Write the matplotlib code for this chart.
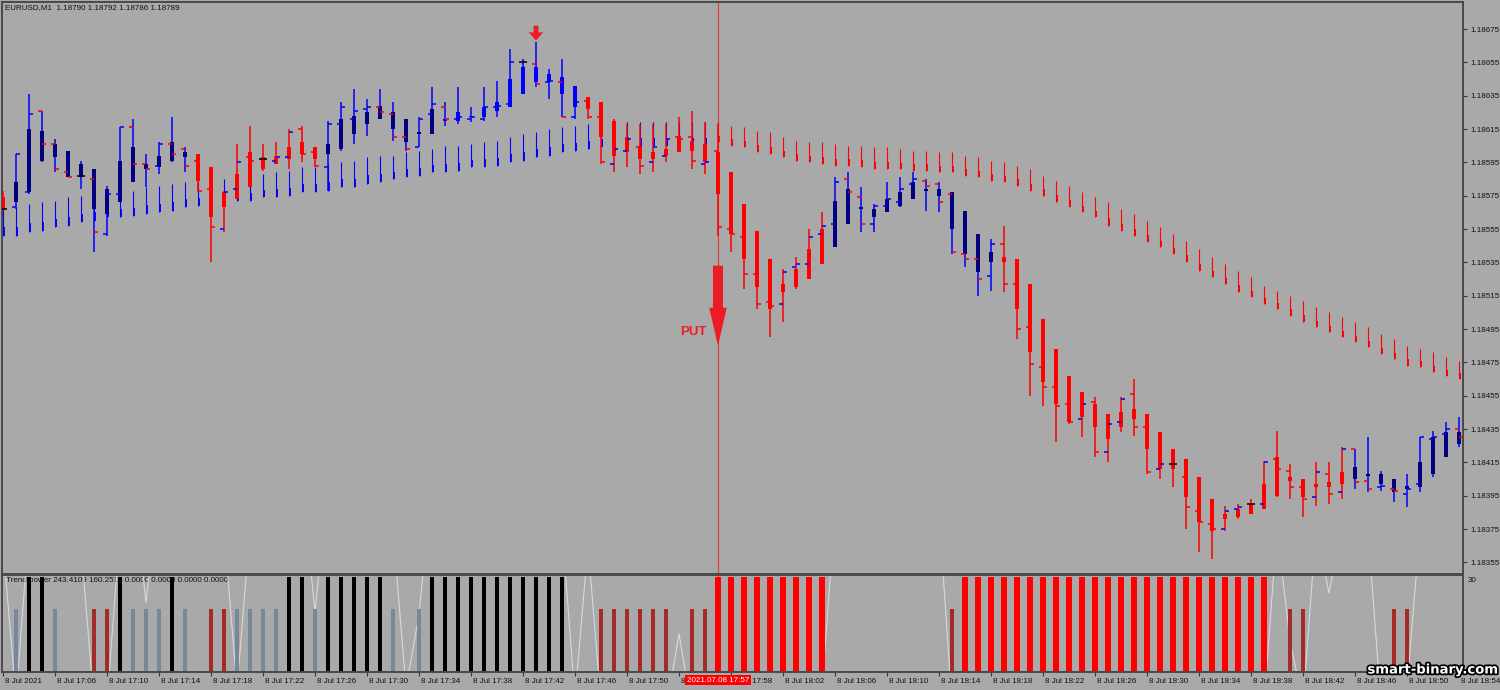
import numpy as np
import matplotlib
matplotlib.use("Agg")
import matplotlib.pyplot as plt
import matplotlib.patheffects as pe
import matplotlib.transforms as mtransforms
from matplotlib.patches import FancyArrow

plt.rcParams['font.family'] = ['Liberation Sans', 'DejaVu Sans']

# EURUSD M1, 8 Jul 2021 17:02 .. 18:54 (one entry per minute bar)
high = [
    1.18578, 1.18600, 1.18636, 1.18626, 1.18609, 1.18602, 1.18596, 1.18591, 1.18581, 1.18616,
    1.18621, 1.18600, 1.18607, 1.18622, 1.18604, 1.18600, 1.18592, 1.18578, 1.18606, 1.18617,
    1.18606, 1.18607, 1.18615, 1.18617, 1.18604, 1.18620, 1.18631, 1.18639, 1.18633, 1.18639,
    1.18631, 1.18621, 1.18622, 1.18640, 1.18631, 1.18640, 1.18628, 1.18640, 1.18644, 1.18663,
    1.18657, 1.18667, 1.18651, 1.18657, 1.18641, 1.18634, 1.18631, 1.18621, 1.18618, 1.18618,
    1.18618, 1.18618, 1.18622, 1.18626, 1.18619, 1.18618, 1.18589, 1.18570, 1.18554, 1.18537,
    1.18531, 1.18538, 1.18555, 1.18565, 1.18586, 1.18589, 1.18580, 1.18570, 1.18583, 1.18586,
    1.18589, 1.18585, 1.18583, 1.18577, 1.18566, 1.18552, 1.18549, 1.18557, 1.18537, 1.18522,
    1.18501, 1.18483, 1.18467, 1.18457, 1.18454, 1.18444, 1.18454, 1.18465, 1.18444, 1.18433,
    1.18423, 1.18417, 1.18406, 1.18393, 1.18389, 1.18390, 1.18393, 1.18416, 1.18434, 1.18414,
    1.18405, 1.18415, 1.18415, 1.18424, 1.18423, 1.18430, 1.18410, 1.18405, 1.18408, 1.18430,
    1.18434, 1.18439, 1.18442]
low = [
    1.18566, 1.18567, 1.18576, 1.18595, 1.18589, 1.18586, 1.18579, 1.18541, 1.18551, 1.18571,
    1.18583, 1.18580, 1.18588, 1.18595, 1.18589, 1.18577, 1.18535, 1.18553, 1.18573, 1.18580,
    1.18590, 1.18594, 1.18591, 1.18595, 1.18592, 1.18578, 1.18602, 1.18606, 1.18611, 1.18621,
    1.18608, 1.18602, 1.18604, 1.18612, 1.18617, 1.18618, 1.18619, 1.18620, 1.18622, 1.18628,
    1.18636, 1.18640, 1.18633, 1.18622, 1.18621, 1.18621, 1.18594, 1.18589, 1.18592, 1.18588,
    1.18589, 1.18595, 1.18601, 1.18591, 1.18588, 1.18551, 1.18541, 1.18519, 1.18507, 1.18490,
    1.18499, 1.18519, 1.18525, 1.18534, 1.18544, 1.18558, 1.18553, 1.18553, 1.18565, 1.18568,
    1.18573, 1.18566, 1.18565, 1.18540, 1.18532, 1.18515, 1.18518, 1.18517, 1.18489, 1.18455,
    1.18449, 1.18427, 1.18438, 1.18430, 1.18418, 1.18415, 1.18433, 1.18431, 1.18408, 1.18405,
    1.18400, 1.18375, 1.18361, 1.18357, 1.18374, 1.18381, 1.18384, 1.18387, 1.18394, 1.18393,
    1.18382, 1.18389, 1.18390, 1.18393, 1.18399, 1.18397, 1.18398, 1.18391, 1.18388, 1.18397,
    1.18406, 1.18418, 1.18424]
open_ = [
    1.18567, 1.18568, 1.18577, 1.18626, 1.18606, 1.18589, 1.18587, 1.18585, 1.18552, 1.18576,
    1.18616, 1.18594, 1.18593, 1.18606, 1.18603, 1.18596, 1.18579, 1.18555, 1.18579, 1.18598,
    1.18597, 1.18596, 1.18598, 1.18615, 1.18601, 1.18592, 1.18618, 1.18621, 1.18627, 1.18628,
    1.18624, 1.18610, 1.18604, 1.18624, 1.18628, 1.18621, 1.18621, 1.18621, 1.18628, 1.18630,
    1.18655, 1.18654, 1.18643, 1.18643, 1.18622, 1.18632, 1.18622, 1.18594, 1.18602, 1.18604,
    1.18595, 1.18599, 1.18610, 1.18610, 1.18594, 1.18602, 1.18555, 1.18550, 1.18528, 1.18511,
    1.18510, 1.18532, 1.18534, 1.18552, 1.18558, 1.18585, 1.18574, 1.18558, 1.18569, 1.18571,
    1.18582, 1.18584, 1.18582, 1.18576, 1.18540, 1.18537, 1.18527, 1.18546, 1.18522, 1.18496,
    1.18472, 1.18460, 1.18450, 1.18441, 1.18451, 1.18421, 1.18439, 1.18456, 1.18436, 1.18411,
    1.18414, 1.18406, 1.18386, 1.18378, 1.18375, 1.18387, 1.18390, 1.18390, 1.18417, 1.18410,
    1.18400, 1.18394, 1.18408, 1.18397, 1.18423, 1.18404, 1.18400, 1.18399, 1.18396, 1.18402,
    1.18429, 1.18432, 1.18435]
close = [
    1.18567, 1.18600, 1.18624, 1.18606, 1.18591, 1.18586, 1.18587, 1.18553, 1.18576, 1.18616,
    1.18594, 1.18591, 1.18606, 1.18600, 1.18593, 1.18578, 1.18556, 1.18577, 1.18595, 1.18596,
    1.18597, 1.18598, 1.18613, 1.18600, 1.18593, 1.18618, 1.18628, 1.18626, 1.18628, 1.18625,
    1.18610, 1.18603, 1.18621, 1.18630, 1.18621, 1.18622, 1.18622, 1.18628, 1.18629, 1.18655,
    1.18655, 1.18642, 1.18644, 1.18622, 1.18631, 1.18622, 1.18595, 1.18603, 1.18609, 1.18593,
    1.18604, 1.18609, 1.18609, 1.18596, 1.18595, 1.18556, 1.18552, 1.18528, 1.18510, 1.18509,
    1.18529, 1.18534, 1.18550, 1.18557, 1.18583, 1.18577, 1.18558, 1.18569, 1.18573, 1.18579,
    1.18585, 1.18581, 1.18571, 1.18541, 1.18537, 1.18525, 1.18546, 1.18522, 1.18495, 1.18474,
    1.18460, 1.18449, 1.18439, 1.18450, 1.18421, 1.18438, 1.18453, 1.18436, 1.18409, 1.18414,
    1.18414, 1.18388, 1.18379, 1.18375, 1.18386, 1.18388, 1.18390, 1.18415, 1.18411, 1.18400,
    1.18393, 1.18409, 1.18396, 1.18423, 1.18403, 1.18399, 1.18401, 1.18398, 1.18399, 1.18430,
    1.18430, 1.18435, 1.18430]

# Heiken Ashi bodies (upper / lower edge) and their colour: r = bear, n = bull, b = bull (light)
ha_top = [
    1.18574, 1.18583, 1.18615, 1.18614, 1.18606, 1.18602, 1.18594, 1.18591, 1.18579, 1.18596,
    1.18604, 1.18594, 1.18599, 1.18607, 1.18601, 1.18600, 1.18592, 1.18577, 1.18588, 1.18601,
    1.18598, 1.18599, 1.18604, 1.18607, 1.18604, 1.18606, 1.18621, 1.18623, 1.18625, 1.18629,
    1.18625, 1.18621, 1.18613, 1.18627, 1.18621, 1.18625, 1.18623, 1.18628, 1.18631, 1.18645,
    1.18652, 1.18652, 1.18648, 1.18646, 1.18641, 1.18634, 1.18631, 1.18620, 1.18610, 1.18605,
    1.18601, 1.18603, 1.18611, 1.18608, 1.18606, 1.18601, 1.18589, 1.18570, 1.18554, 1.18537,
    1.18522, 1.18531, 1.18543, 1.18555, 1.18572, 1.18579, 1.18568, 1.18567, 1.18573, 1.18577,
    1.18583, 1.18579, 1.18579, 1.18577, 1.18566, 1.18552, 1.18541, 1.18538, 1.18537, 1.18522,
    1.18501, 1.18483, 1.18467, 1.18457, 1.18450, 1.18444, 1.18445, 1.18447, 1.18444, 1.18433,
    1.18423, 1.18417, 1.18406, 1.18393, 1.18384, 1.18387, 1.18390, 1.18402, 1.18418, 1.18406,
    1.18405, 1.18402, 1.18403, 1.18409, 1.18412, 1.18408, 1.18408, 1.18405, 1.18401, 1.18415,
    1.18430, 1.18433, 1.18433]
ha_bot = [
    1.18567, 1.18571, 1.18577, 1.18596, 1.18598, 1.18586, 1.18586, 1.18567, 1.18564, 1.18571,
    1.18583, 1.18591, 1.18592, 1.18596, 1.18598, 1.18584, 1.18562, 1.18568, 1.18573, 1.18580,
    1.18591, 1.18594, 1.18597, 1.18600, 1.18597, 1.18600, 1.18603, 1.18612, 1.18618, 1.18621,
    1.18615, 1.18607, 1.18612, 1.18612, 1.18620, 1.18620, 1.18622, 1.18622, 1.18626, 1.18628,
    1.18636, 1.18643, 1.18643, 1.18636, 1.18628, 1.18627, 1.18610, 1.18599, 1.18601, 1.18597,
    1.18597, 1.18599, 1.18601, 1.18602, 1.18595, 1.18576, 1.18552, 1.18537, 1.18520, 1.18507,
    1.18517, 1.18520, 1.18525, 1.18534, 1.18544, 1.18558, 1.18567, 1.18562, 1.18565, 1.18569,
    1.18573, 1.18578, 1.18575, 1.18555, 1.18540, 1.18529, 1.18535, 1.18535, 1.18507, 1.18481,
    1.18463, 1.18450, 1.18439, 1.18442, 1.18436, 1.18429, 1.18436, 1.18441, 1.18423, 1.18411,
    1.18411, 1.18394, 1.18379, 1.18374, 1.18381, 1.18382, 1.18384, 1.18387, 1.18395, 1.18404,
    1.18394, 1.18400, 1.18400, 1.18402, 1.18405, 1.18407, 1.18402, 1.18397, 1.18399, 1.18400,
    1.18408, 1.18418, 1.18426]
ha_kind = ("r" "nnnnnnnnnnnnnn" "rrrrrrrrrr" "nnnnnnnnn" "bbbbbbbbbbb"
           "rrrrrrrrrrrrrrrrrrr" "nnnnnnnnnnnnn" "rrrrrrrrrrrrrrrrrrrrrrrrrrr" "nnnnnnnnn")

# envelope band: blue below price until the signal, red above price afterwards
band_top = [
    1.18567, 1.18568, 1.18570, 1.18571, 1.18572, 1.18574, 1.18575, 1.18576, 1.18577, 1.18578,
    1.18578, 1.18580, 1.18581, 1.18582, 1.18583, 1.18584, 1.18584, 1.18585, 1.18586, 1.18587,
    1.18588, 1.18589, 1.18590, 1.18592, 1.18592, 1.18594, 1.18595, 1.18596, 1.18598, 1.18599,
    1.18599, 1.18601, 1.18602, 1.18603, 1.18605, 1.18605, 1.18606, 1.18607, 1.18608, 1.18610,
    1.18612, 1.18613, 1.18615, 1.18616, 1.18617, 1.18618, 1.18619, 1.18619, 1.18619, 1.18619,
    1.18619, 1.18619, 1.18619, 1.18619, 1.18619, 1.18619, 1.18617, 1.18616, 1.18614, 1.18613,
    1.18610, 1.18608, 1.18607, 1.18607, 1.18606, 1.18605, 1.18605, 1.18604, 1.18604, 1.18603,
    1.18602, 1.18602, 1.18601, 1.18601, 1.18599, 1.18598, 1.18596, 1.18595, 1.18593, 1.18591,
    1.18587, 1.18584, 1.18581, 1.18577, 1.18574, 1.18571, 1.18567, 1.18564, 1.18560, 1.18556,
    1.18552, 1.18548, 1.18543, 1.18538, 1.18534, 1.18530, 1.18526, 1.18521, 1.18518, 1.18515,
    1.18512, 1.18508, 1.18505, 1.18502, 1.18499, 1.18496, 1.18492, 1.18489, 1.18485, 1.18483,
    1.18481, 1.18478, 1.18476]
band_bot = [
    1.18551, 1.18551, 1.18553, 1.18554, 1.18556, 1.18557, 1.18559, 1.18560, 1.18562, 1.18562,
    1.18563, 1.18564, 1.18565, 1.18566, 1.18568, 1.18569, 1.18571, 1.18571, 1.18572, 1.18572,
    1.18574, 1.18574, 1.18575, 1.18577, 1.18577, 1.18578, 1.18580, 1.18580, 1.18582, 1.18583,
    1.18585, 1.18586, 1.18587, 1.18589, 1.18589, 1.18590, 1.18592, 1.18592, 1.18593, 1.18595,
    1.18596, 1.18598, 1.18599, 1.18601, 1.18602, 1.18603, 1.18604, 1.18604, 1.18604, 1.18605,
    1.18605, 1.18605, 1.18605, 1.18605, 1.18605, 1.18607, 1.18605, 1.18604, 1.18601, 1.18600,
    1.18598, 1.18596, 1.18595, 1.18594, 1.18593, 1.18593, 1.18592, 1.18591, 1.18591, 1.18591,
    1.18590, 1.18590, 1.18589, 1.18589, 1.18587, 1.18586, 1.18584, 1.18583, 1.18581, 1.18578,
    1.18575, 1.18571, 1.18568, 1.18565, 1.18562, 1.18557, 1.18554, 1.18551, 1.18547, 1.18544,
    1.18540, 1.18535, 1.18530, 1.18526, 1.18522, 1.18517, 1.18514, 1.18510, 1.18507, 1.18503,
    1.18499, 1.18496, 1.18493, 1.18490, 1.18487, 1.18484, 1.18480, 1.18477, 1.18473, 1.18472,
    1.18469, 1.18467, 1.18465]

# Trend power histogram: k = black, s = slate, b = brown, r = red, . = none
power_kind = (".skks..bbk" "sssks.bbss" "sskkskkkkk" "s.skkkkkkk" "kkkk..bbbb"
              "bb.bbrrrrr" "rrrr......" "...brrrrrr" "rrrrrrrrrr" "rrrrrrrr.b"
              "b......bb." "...")
power_height = {"k": 30, "s": 20, "b": 20, "r": 30}
power_line = [
    40, -8, 45, 60, 60, 60, 40, -10, -10, 45,
    60, 22, 60, 60, 60, 60, 60, 45, -5, 45,
    60, 60, 60, 60, 19, 60, 60, 60, 60, 60,
    45, -5, 18, 60, 60, 60, 60, 60, 60, 60,
    60, 60, 60, 45, -8, 40, -10, -10, -10, -10,
    -10, -12, 12, -12, -10, -10, -10, -10, -10, -10,
    -10, -10, -10, -5, 50, 60, 60, 60, 60, 60,
    60, 60, 50, -10, -10, -10, -10, -10, -10, -10,
    -10, -10, -10, -10, -10, -10, -10, -10, -10, -10,
    -10, -10, -10, -10, -10, -10, -10, -10, 45, 10,
    -10, 45, 25, 45, 45, 45, -10, -10, -5, 45,
    60, 60, 60]

time_labels = ["8 Jul 2021", "8 Jul 17:06", "8 Jul 17:10", "8 Jul 17:14", "8 Jul 17:18",
               "8 Jul 17:22", "8 Jul 17:26", "8 Jul 17:30", "8 Jul 17:34", "8 Jul 17:38",
               "8 Jul 17:42", "8 Jul 17:46", "8 Jul 17:50", "8 Jul 17:54", "8 Jul 17:58",
               "8 Jul 18:02", "8 Jul 18:06", "8 Jul 18:10", "8 Jul 18:14", "8 Jul 18:18",
               "8 Jul 18:22", "8 Jul 18:26", "8 Jul 18:30", "8 Jul 18:34", "8 Jul 18:38",
               "8 Jul 18:42", "8 Jul 18:46", "8 Jul 18:50", "8 Jul 18:54"]
price_ticks = [1.18355, 1.18375, 1.18395, 1.18415, 1.18435, 1.18455, 1.18475, 1.18495,
               1.18515, 1.18535, 1.18555, 1.18575, 1.18595, 1.18615, 1.18635, 1.18655, 1.18675]

signal_idx = 55          # 17:57 PUT signal
peak_idx = 41            # small arrow on the top
put_arrow = (1.18533, 1.18485)
peak_arrow = (1.18677, 1.18668)
put_text_price = 1.18493

BG = "#a9a9a9"
FRAME = "#4a4a4a"
BLUE, NAVY, RED = "#0000ff", "#000080", "#ff0000"

n = len(high)
idx = np.arange(n)
high, low = np.array(high), np.array(low)
open_, close = np.array(open_), np.array(close)
ha_top, ha_bot = np.array(ha_top), np.array(ha_bot)
band_top, band_bot = np.array(band_top), np.array(band_bot)

W, H = 1500, 690
fig = plt.figure(figsize=(15, 6.9), dpi=100, facecolor=BG)
ax = fig.add_axes([2 / W, 1 - 574 / H, 1461 / W, 572 / H], facecolor=BG)
ax2 = fig.add_axes([2 / W, 1 - 672 / H, 1461 / W, 97 / H], facecolor=BG)

xl = (-1 / 13, n - 0.69)
for a in (ax, ax2):
    a.set_xlim(*xl)
    for s in a.spines.values():
        s.set_color(FRAME)
        s.set_linewidth(1.4)

ax.set_ylim(1.18348, 1.186912)
ax2.set_ylim(0, 30.6)

# ---- band -------------------------------------------------------------
band_col = [BLUE if i < signal_idx else RED for i in idx]
ax.vlines(idx, band_bot, band_top, colors=band_col, lw=0.8, zorder=2)
ax.vlines(idx + 0.09, band_bot, band_bot + 0.32 * (band_top - band_bot),
          colors=band_col, lw=1.4, zorder=2)

# ---- candles -----------------------------------------------------------
body_col = {"r": RED, "n": NAVY, "b": BLUE}
wick_col = [RED if k == "r" else BLUE for k in ha_kind]
ax.vlines(idx, low, high, colors=wick_col, lw=1.1, zorder=3)
min_h = 0.000006
bh = np.maximum(ha_top - ha_bot, min_h)
ax.bar(idx, bh, bottom=ha_bot, width=0.31, color=[body_col[k] for k in ha_kind],
       linewidth=0, zorder=4)

tick_col = [BLUE if c > o else (RED if c < o else "black") for o, c in zip(open_, close)]
ax.hlines(open_, idx - 0.3, idx, colors=tick_col, lw=1.1, zorder=5)
ax.hlines(close, idx, idx + 0.3, colors=tick_col, lw=1.1, zorder=5)

# ---- signal marks ------------------------------------------------------
ax.axvline(signal_idx, color="#e03a3a", lw=0.8, zorder=1)
ax2.axvline(signal_idx, color="#e03a3a", lw=0.8, zorder=1)
ax.add_patch(FancyArrow(signal_idx, put_arrow[0], 0, put_arrow[1] - put_arrow[0],
                        width=0.77, head_width=1.35, head_length=0.000228,
                        length_includes_head=True, color="#ed1c24", lw=0, zorder=6))
ax.text(signal_idx - 1.9, put_text_price, "PUT", color="#ed1c24", fontsize=9.5,
        fontweight="bold", ha="center", va="center", zorder=6)
ax.add_patch(FancyArrow(peak_idx, peak_arrow[0], 0, peak_arrow[1] - peak_arrow[0],
                        width=0.38, head_width=1.1, head_length=0.00005,
                        length_includes_head=True, color="#ed1c24", lw=0, zorder=6))

# ---- price axis --------------------------------------------------------
ax.set_xticks([])
ax.yaxis.tick_right()
ax.set_yticks(price_ticks)
ax.set_yticklabels([f"{p:.5f}" for p in price_ticks])
ax.tick_params(axis="y", direction="out", length=3, width=0.8, color="#333333",
               labelsize=5.8, pad=2, labelcolor="#111111")
ax.text(0.002, 0.996, "EURUSD,M1  1.18790 1.18792 1.18786 1.18789",
        transform=ax.transAxes, ha="left", va="top", fontsize=5.8, color="#111111")

# ---- trend power panel -------------------------------------------------
px = [i for i, k in zip(idx, power_kind) if k != "."]
pk = [k for k in power_kind if k != "."]
p_col = {"k": "black", "s": "#778899", "b": "#a52a2a", "r": RED}
p_w = {"k": 0.38, "s": 0.3, "b": 0.3, "r": 0.42}
ax2.bar(px, [power_height[k] for k in pk], width=[p_w[k] for k in pk],
        color=[p_col[k] for k in pk], linewidth=0, zorder=2)
ax2.plot(idx, power_line, color="#d9d9d9", lw=0.8, zorder=1.5)
ax2.text(0.003, 0.975, "Trend power 243.4109 160.2516 0.0000 0.0000 0.0000 0.0000",
         transform=ax2.transAxes, ha="left", va="top", fontsize=5.8, color="#111111",
         zorder=1)

ax2.set_yticks([])
yt = mtransforms.blended_transform_factory(ax2.transAxes, ax2.transData)
ax2.text(1.003, 30, "30", transform=yt, ha="left", va="top", fontsize=5.8, color="#111111")
ax2.text(1.003, 0, "0", transform=yt, ha="left", va="bottom", fontsize=5.8, color="#111111")

ax2.set_xticks(idx[::4])
ax2.set_xticklabels(time_labels)
ax2.tick_params(axis="x", direction="out", length=3, width=0.8, color="#333333",
                labelsize=5.8, pad=1, labelcolor="#111111")
shift = mtransforms.ScaledTranslation(1.5 / 72, 0, fig.dpi_scale_trans)
for lbl in ax2.get_xticklabels():
    lbl.set_horizontalalignment("left")
    lbl.set_transform(lbl.get_transform() + shift)

xt = mtransforms.blended_transform_factory(ax2.transData, ax2.transAxes)
ax2.text(signal_idx, -0.085, "2021.07.08 17:57", transform=xt, ha="center", va="center",
         fontsize=5.8, color="white", clip_on=False, zorder=10,
         bbox=dict(facecolor=RED, edgecolor="none", pad=1.2))

fig.text(0.9555, 0.029, "smart-binary.com", ha="center", va="center", fontsize=9.5,
         fontweight="bold", family="DejaVu Sans", color="white", zorder=20,
         path_effects=[pe.Stroke(linewidth=2.5, foreground="black"), pe.Normal()])

fig.savefig("out.png", dpi=100, facecolor=BG)
